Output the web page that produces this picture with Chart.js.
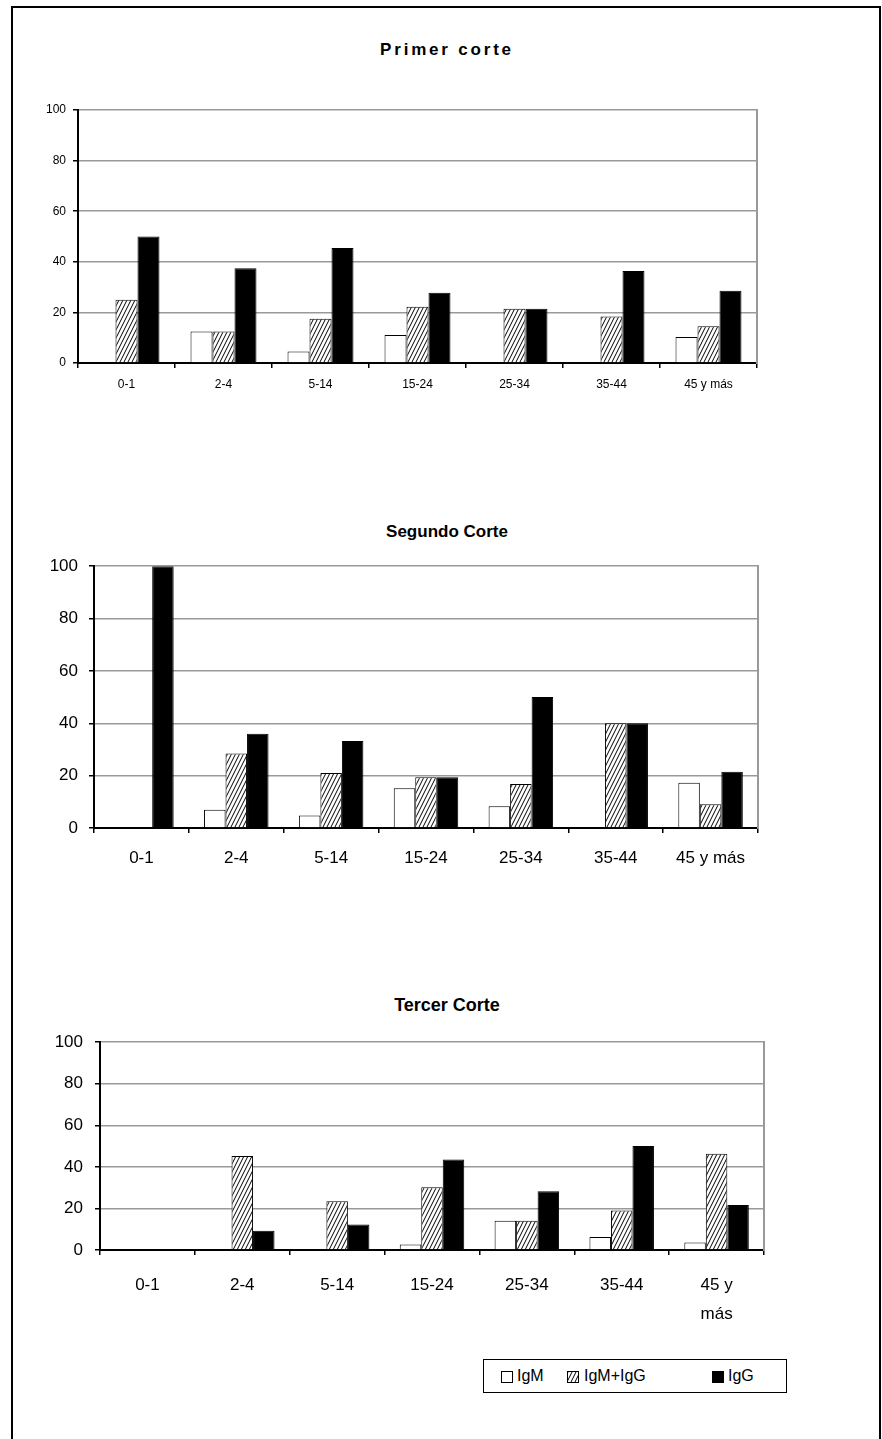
<!DOCTYPE html>
<html lang="es">
<head>
  <meta charset="UTF-8">
  <title>Anticuerpos por grupo de edad</title>
  <script src="https://cdn.jsdelivr.net/npm/chart.js"></script>
  <style>
    body {
      margin: 0;
      background: #fff;
      font-family: 'Liberation Sans', Arial, sans-serif;
    }
    #marco {
      position: absolute;
      left: 11px;
      top: 6px;
      width: 866px;
      height: 1460px;
      border: 2px solid #000;
    }
    canvas {
      position: absolute;
      left: 0;
    }
    .titulo {
      position: absolute;
      left: 297px;
      width: 300px;
      text-align: center;
      font-weight: bold;
      font-size: 17px;
      line-height: 20px;
      color: #000;
    }
    #leyenda {
      position: absolute;
      left: 483px;
      top: 1359px;
      width: 302px;
      height: 32px;
      border: 1px solid #000;
      font-size: 16px;
    }
    #leyenda span {
      position: absolute;
      top: 7px;
    }
    #leyenda i {
      position: absolute;
      top: 11px;
      width: 10px;
      height: 10px;
      border: 1px solid #000;
    }
  </style>
</head>
<body>
  <div id="marco"></div>

  <div class="titulo" style="top:40px; letter-spacing:2.8px;">Primer corte</div>
  <div class="titulo" style="top:522px;">Segundo Corte</div>
  <div class="titulo" style="top:995px; font-size:18px;">Tercer Corte</div>

  <canvas id="corte1" width="882" height="320" style="top:90px"></canvas>
  <canvas id="corte2" width="882" height="335" style="top:545px"></canvas>
  <canvas id="corte3" width="882" height="310" style="top:1020px"></canvas>

  <div id="leyenda">
    <i id="swIgM" style="left:17px; background:#fff;"></i><span style="left:33px;">IgM</span>
    <i id="swMix" style="left:83px;"></i><span style="left:100px;">IgM+IgG</span>
    <i id="swIgG" style="left:228px; background:#000;"></i><span style="left:244px;">IgG</span>
  </div>

  <script>
    // Grupos de edad
    const grupos = ['0-1', '2-4', '5-14', '15-24', '25-34', '35-44', '45 y más'];
    const ticksY = [0, 20, 40, 60, 80, 100];

    // Primer corte (%)
    const igm1   = [0, 12.5, 4.5, 11.1, 0, 0, 10.3];
    const mixta1 = [25, 12.5, 17.5, 22.2, 21.4, 18.4, 14.5];
    const igg1   = [50, 37.5, 45.5, 27.8, 21.4, 36.4, 28.6];

    // Segundo corte (%)
    const igm2   = [0, 7, 4.8, 15.2, 8.3, 0, 17.3];
    const mixta2 = [0, 28.5, 21, 19.4, 16.8, 40, 9.1];
    const igg2   = [100, 36, 33.2, 19.4, 50, 40, 21.5];

    // Tercer corte (%)
    const igm3   = [0, 0, 0, 2.7, 14.1, 6.3, 3.6];
    const mixta3 = [0, 45.2, 23.4, 30.2, 14.1, 19, 46.3];
    const igg3   = [0, 9.3, 12.3, 43.6, 28.3, 50, 21.7];

    // trama rayada para IgM+IgG
    const tile = document.createElement('canvas');
    tile.width = 4;
    tile.height = 8;
    const tc = tile.getContext('2d');
    tc.fillStyle = '#fff';
    tc.fillRect(0, 0, 4, 8);
    tc.strokeStyle = '#000';
    tc.lineWidth = 1;
    [-4, 0, 4].forEach(function (dx) {
      tc.beginPath();
      tc.moveTo(dx, 8);
      tc.lineTo(dx + 4, 0);
      tc.stroke();
    });
    const rayado = tc.createPattern(tile, 'repeat');
    document.getElementById('swMix').style.background = 'url(' + tile.toDataURL() + ')';

    const fuente = "'Liberation Sans', Arial, sans-serif";

    function crearGrafico(id, igm, mixta, igg, cfg) {
      const ctx = document.getElementById(id).getContext('2d');
      return new Chart(ctx, {
        type: 'bar',
        data: {
          labels: grupos,
          datasets: [
            { label: 'IgM', data: igm, backgroundColor: '#fff' },
            { label: 'IgM+IgG', data: mixta, backgroundColor: rayado },
            { label: 'IgG', data: igg, backgroundColor: '#000' }
          ]
        },
        options: {
          responsive: false,
          animation: false,
          events: [],
          datasets: {
            bar: {
              borderColor: '#000',
              borderWidth: 1,
              barPercentage: 1,
              categoryPercentage: 0.68
            }
          },
          layout: {
            padding: { left: 0, right: 882 - cfg.right, top: cfg.top, bottom: 0 }
          },
          plugins: {
            legend: { display: false },
            tooltip: { enabled: false },
            title: { display: false }
          },
          scales: {
            x: {
              grid: {
                drawOnChartArea: false,
                drawTicks: true,
                tickLength: 5,
                color: '#000',
                lineWidth: 1.5
              },
              border: { color: '#000', width: 2 },
              ticks: {
                color: '#000',
                padding: cfg.xPad,
                maxRotation: 0,
                autoSkip: false,
                font: { family: fuente, size: cfg.size, lineHeight: cfg.xLine },
                callback: function (v, i) {
                  const t = grupos[i];
                  return cfg.partir && t.indexOf(' ') > 0 ? [t.slice(0, t.lastIndexOf(' ')), t.slice(t.lastIndexOf(' ') + 1)] : t;
                }
              },
              afterFit: function (s) { s.height = cfg.xHeight; }
            },
            y: {
              min: 0,
              max: 100,
              afterBuildTicks: function (s) { s.ticks = ticksY.map(function (v) { return { value: v }; }); },
              grid: {
                color: '#999',
                lineWidth: 1.5,
                tickColor: '#000',
                tickLength: 5
              },
              border: { color: '#000', width: 2 },
              ticks: {
                color: '#000',
                padding: cfg.yPad,
                font: { family: fuente, size: cfg.size }
              },
              afterFit: function (s) { s.width = cfg.left; }
            },
            y2: {
              position: 'right',
              min: 0,
              max: 100,
              grid: { drawOnChartArea: false, drawTicks: false },
              border: { color: '#999', width: 2 },
              ticks: { display: false },
              afterFit: function (s) { s.width = 0; }
            }
          }
        }
      });
    }

    crearGrafico('corte1', igm1, mixta1, igg1,
      { left: 78, right: 757, top: 20, xHeight: 47, size: 12, xPad: 9, xLine: 1.2, yPad: 7, partir: false });
    crearGrafico('corte2', igm2, mixta2, igg2,
      { left: 94, right: 758, top: 19, xHeight: 52, size: 17, xPad: 15, xLine: 1.2, yPad: 11, partir: false });
    crearGrafico('corte3', igm3, mixta3, igg3,
      { left: 100, right: 764, top: 19, xHeight: 80, size: 17, xPad: 16, xLine: 29 / 17, yPad: 12, partir: true });
  </script>
</body>
</html>
